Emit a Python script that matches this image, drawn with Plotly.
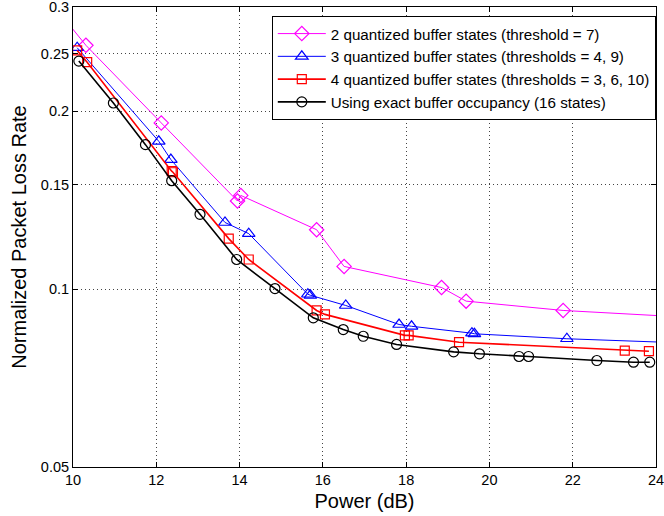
import math
import plotly.graph_objects as go

# Packet loss vs. transmit power for different buffer-state quantizations
power_2q = [9.5, 10.31, 12.12, 13.95, 14.03, 15.85, 16.51, 18.85, 19.44, 21.77, 25.0]
loss_2q = [0.304, 0.2584, 0.191, 0.1409, 0.1440, 0.126, 0.1092, 0.1006, 0.0954, 0.0920, 0.0894]

power_3q = [10.10, 12.06, 12.35, 13.65, 14.22, 15.64, 15.70, 16.55, 17.83, 18.13, 19.58, 19.64, 21.86, 25.0]
loss_3q = [0.256, 0.1778, 0.1656, 0.1296, 0.1241, 0.0980, 0.0976, 0.0938, 0.0871, 0.0865, 0.0842, 0.0840, 0.0824, 0.0809]

power_4q = [10.10, 10.34, 12.37, 12.40, 13.74, 14.22, 15.85, 16.05, 17.97, 18.06, 19.27, 23.25, 23.83]
loss_4q = [0.2533, 0.242, 0.1583, 0.1576, 0.1217, 0.1122, 0.0920, 0.0906, 0.0835, 0.0835, 0.0813, 0.0787, 0.0785]

power_exact = [10.14, 10.97, 11.74, 12.37, 13.05, 13.93, 14.85, 15.77, 16.49, 16.97, 17.77, 19.14, 19.76, 20.71, 20.94, 22.58, 23.46, 23.85]
loss_exact = [0.2430, 0.2064, 0.1755, 0.1525, 0.1338, 0.1122, 0.1002, 0.0894, 0.0854, 0.0832, 0.0806, 0.0783, 0.0777, 0.0769, 0.0769, 0.0757, 0.0752, 0.0752]

series_names = [
    "2 quantized buffer states (threshold = 7)",
    "3 quantized buffer states (thresholds = 4, 9)",
    "4 quantized buffer states (thresholds = 3, 6, 10)",
    "Using exact buffer occupancy (16 states)",
]

x_ticks = [10, 12, 14, 16, 18, 20, 22, 24]
y_ticks = [0.05, 0.1, 0.15, 0.2, 0.25, 0.3]
y_tick_text = ["0.05", "0.1", "0.15", "0.2", "0.25", "0.3"]

FONT = "Liberation Sans, Arial, Helvetica, sans-serif"

fig = go.Figure()

styles = [
    (power_2q, loss_2q, "#ff00ff", "diamond-open", 1.0, 11),
    (power_3q, loss_3q, "#0000ff", "triangle-up-open", 1.0, 11),
    (power_4q, loss_4q, "#ff0000", "square-open", 1.6, 9),
    (power_exact, loss_exact, "#000000", "circle-open", 1.6, 10),
]

for (xs, ys, color, symbol, lw, ms), name in zip(styles, series_names):
    fig.add_trace(go.Scatter(
        x=xs, y=ys, name=name, mode="lines+markers",
        line=dict(color=color, width=lw),
        marker=dict(symbol=symbol, size=ms, color=color, line=dict(color=color, width=1.2)),
    ))

axis_common = dict(
    showline=True, linecolor="black", linewidth=1, mirror="ticks",
    ticks="inside", ticklen=5, tickcolor="black",
    showgrid=True, gridcolor="#444444", gridwidth=1, griddash="1px,3px",
    zeroline=False, ticklabeloverflow="allow",
    tickfont=dict(family=FONT, size=14.5, color="black"),
)

fig.update_xaxes(
    range=[10, 24], tickvals=x_ticks,
    title=dict(text="Power (dB)", font=dict(family=FONT, size=20, color="black"), standoff=6),
    **axis_common,
)
fig.update_yaxes(
    type="log", range=[math.log10(0.05), math.log10(0.3) + 1e-6],
    tickvals=y_ticks, ticktext=y_tick_text,
    title=dict(text="Normalized Packet Loss Rate", font=dict(family=FONT, size=20, color="black"), standoff=8),
    **axis_common,
)

fig.update_layout(
    width=664, height=516,
    margin=dict(l=73, r=8, t=7, b=49, autoexpand=False),
    paper_bgcolor="white", plot_bgcolor="white",
    font=dict(family=FONT, size=14.5, color="black"),
    legend=dict(
        x=0.341, y=0.98, xanchor="left", yanchor="top",
        bgcolor="white", bordercolor="black", borderwidth=1,
        font=dict(family=FONT, size=15.2, color="black"),
        itemwidth=48, tracegroupgap=0,
    ),
    showlegend=True,
)

fig.write_html("out.html")
